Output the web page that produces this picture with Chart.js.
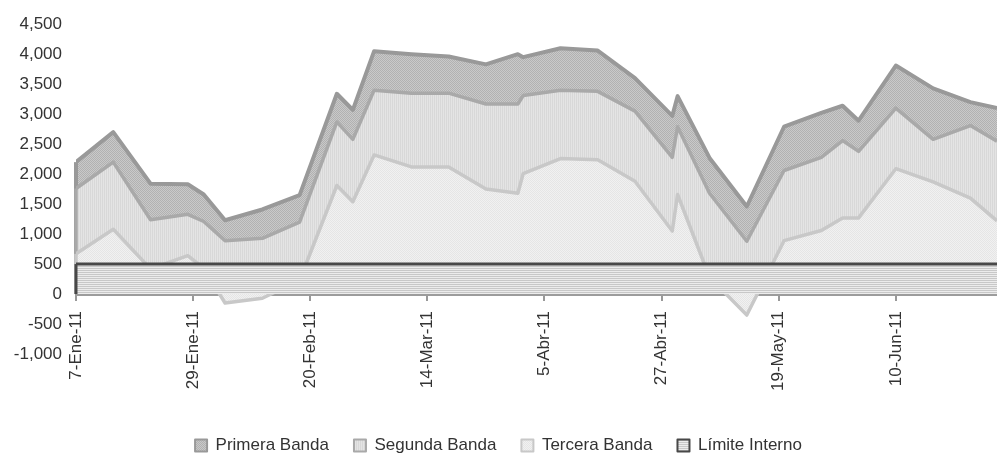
<!DOCTYPE html>
<html>
<head>
<meta charset="utf-8">
<script src="https://cdn.jsdelivr.net/npm/chart.js@4/dist/chart.umd.min.js"></script>
<style>
  body { margin: 0; background: #fff; }
</style>
</head>
<body>
<canvas id="grafico" width="997" height="454"></canvas>
<script>

/* DATOS */

const fechas = ['2011-01-07', '2011-01-14', '2011-01-21', '2011-01-28', '2011-01-31', '2011-02-04',
    '2011-02-11', '2011-02-18', '2011-02-25', '2011-02-28', '2011-03-04', '2011-03-11', '2011-03-18',
    '2011-03-25', '2011-03-31', '2011-04-01', '2011-04-08', '2011-04-15', '2011-04-22', '2011-04-29',
    '2011-04-30', '2011-05-06', '2011-05-13', '2011-05-20', '2011-05-27', '2011-05-31', '2011-06-03',
    '2011-06-10', '2011-06-17', '2011-06-24', '2011-06-29'];

const primeraBanda = [2200, 2700, 1840, 1830, 1660, 1230, 1410, 1650, 3340, 3070, 4050, 4000, 3960,
    3830, 4000, 3950, 4100, 4060, 3600, 2970, 3300, 2270, 1460, 2790, 3020, 3140, 2890, 3810, 3430, 3200, 3100];

const segundaBanda = [1760, 2200, 1240, 1330, 1210, 890, 930, 1200, 2870, 2580, 3400, 3350, 3350,
    3170, 3170, 3310, 3400, 3380, 3050, 2280, 2790, 1680, 880, 2060, 2280, 2560, 2380, 3100, 2580, 2810, 2550];

const terceraBanda = [670, 1080, 420, 640, 430, -150, -70, 230, 1810, 1540, 2320, 2120, 2120,
    1750, 1680, 2010, 2260, 2240, 1880, 1050, 1660, 280, -350, 890, 1060, 1270, 1270, 2090, 1870, 1600, 1220];

const limiteInterno = [500, 500, 500, 500, 500, 500, 500, 500, 500, 500, 500, 500, 500, 500, 500, 500,
    500, 500, 500, 500, 500, 500, 500, 500, 500, 500, 500, 500, 500, 500, 500];

const fechasEje = ['2011-01-07', '2011-01-29', '2011-02-20', '2011-03-14', '2011-04-05',
    '2011-04-27', '2011-05-19', '2011-06-10'];

const meses = ['Ene', 'Feb', 'Mar', 'Abr', 'May', 'Jun', 'Jul', 'Ago', 'Sep', 'Oct', 'Nov', 'Dic'];

/* FECHAS */

const inicio = Date.UTC(2011, 0, 7);

function dia(f){
    let p = f.split('-').map(Number);
    return (Date.UTC(p[0], p[1] - 1, p[2]) - inicio) / 86400000;
}

function etiqueta(v){
    let d = new Date(inicio + v * 86400000);
    return d.getUTCDate() + '-' + meses[d.getUTCMonth()] + '-' + String(d.getUTCFullYear()).slice(2);
}

function serie(valores){
    return valores.map((v, i) => ({ x: dia(fechas[i]), y: v }));
}

/* TRAMAS */

let canvas = document.getElementById('grafico');
let ctx = canvas.getContext('2d');

function trama(w, h, fondo, tinta, puntos){
    let c = document.createElement('canvas');
    c.width = w;
    c.height = h;
    let g = c.getContext('2d');
    g.fillStyle = fondo;
    g.fillRect(0, 0, w, h);
    g.fillStyle = tinta;
    puntos.forEach(p => g.fillRect(p[0], p[1], 1, 1));
    return ctx.createPattern(c, 'repeat');
}

const tramaPrimera = trama(2, 2, '#c9c9c9', '#b1b1b1', [[0, 0], [1, 1]]);
const tramaSegunda = trama(2, 1, '#e4e4e4', '#d8d8d8', [[0, 0]]);
const tramaTercera = trama(2, 2, '#f1f1f1', '#e5e5e5', [[0, 0], [1, 1]]);
const tramaLimite = trama(1, 2, '#ececec', '#c8c8c8', [[0, 0]]);

/* BORDE IZQUIERDO DE LAS AREAS */

const bordeIzquierdo = {
    id: 'bordeIzquierdo',
    afterDatasetDraw(chart, args){
        let ds = chart.data.datasets[args.index];
        let p = args.meta.data[0];
        let y0 = chart.scales.y.getPixelForValue(0);
        let c = chart.ctx;
        c.save();
        c.strokeStyle = ds.borderColor;
        c.lineWidth = ds.borderWidth;
        c.beginPath();
        c.moveTo(p.x, p.y);
        c.lineTo(p.x, y0);
        c.stroke();
        c.restore();
    }
};

/* GRAFICO */

Chart.defaults.font.family = '"Liberation Sans", Arial, sans-serif';
Chart.defaults.color = '#333';

function area(nombre, valores, fondo, borde, ancho){
    return {
        label: nombre,
        data: serie(valores),
        backgroundColor: fondo,
        borderColor: borde,
        borderWidth: ancho,
        borderJoinStyle: 'round',
        fill: 'origin',
        pointRadius: 0,
        tension: 0
    };
}

new Chart(canvas, {
    type: 'line',
    data: {
        datasets: [
            area('Límite Interno', limiteInterno, tramaLimite, '#484848', 3),
            area('Tercera Banda', terceraBanda, tramaTercera, '#c8c8c8', 3.5),
            area('Segunda Banda', segundaBanda, tramaSegunda, '#a9a9a9', 3.5),
            area('Primera Banda', primeraBanda, tramaPrimera, '#999999', 4)
        ]
    },
    options: {
        responsive: false,
        animation: false,
        layout: {
            padding: { top: 20, right: 0, bottom: -10, left: 0 }
        },
        scales: {
            x: {
                type: 'linear',
                position: { y: 0 },
                z: 1,
                min: 0,
                max: dia('2011-06-29'),
                afterBuildTicks: (scale) => {
                    scale.ticks = fechasEje.map(f => ({ value: dia(f) }));
                },
                grid: {
                    display: true,
                    drawOnChartArea: false,
                    drawTicks: true,
                    tickLength: 5,
                    color: '#999',
                    lineWidth: 2
                },
                border: {
                    display: true,
                    color: '#9c9c9c',
                    width: 3
                },
                ticks: {
                    autoSkip: false,
                    minRotation: 90,
                    maxRotation: 90,
                    padding: 12,
                    font: { size: 17 },
                    callback: (v) => etiqueta(v)
                }
            },
            y: {
                min: -1000,
                max: 4500,
                afterFit: (scale) => {
                    scale.width = 76;
                },
                grid: {
                    display: false,
                    drawTicks: false
                },
                border: {
                    display: false
                },
                ticks: {
                    stepSize: 500,
                    padding: 14,
                    font: { size: 17 },
                    callback: (v) => v.toLocaleString('en-US')
                }
            }
        },
        plugins: {
            legend: {
                position: 'bottom',
                reverse: true,
                title: {
                    display: true,
                    text: '',
                    font: { size: 10, lineHeight: 1 },
                    padding: { top: 0, bottom: 48 }
                },
                labels: {
                    boxWidth: 12,
                    boxHeight: 12,
                    padding: 25,
                    font: { size: 17 },
                    color: '#333',
                    generateLabels: (chart) => {
                        let items = Chart.defaults.plugins.legend.labels.generateLabels(chart);
                        items.forEach(it => { it.lineWidth = 2; });
                        return items;
                    }
                }
            },
            tooltip: { enabled: false }
        }
    },
    plugins: [bordeIzquierdo]
});

</script>
</body>
</html>
